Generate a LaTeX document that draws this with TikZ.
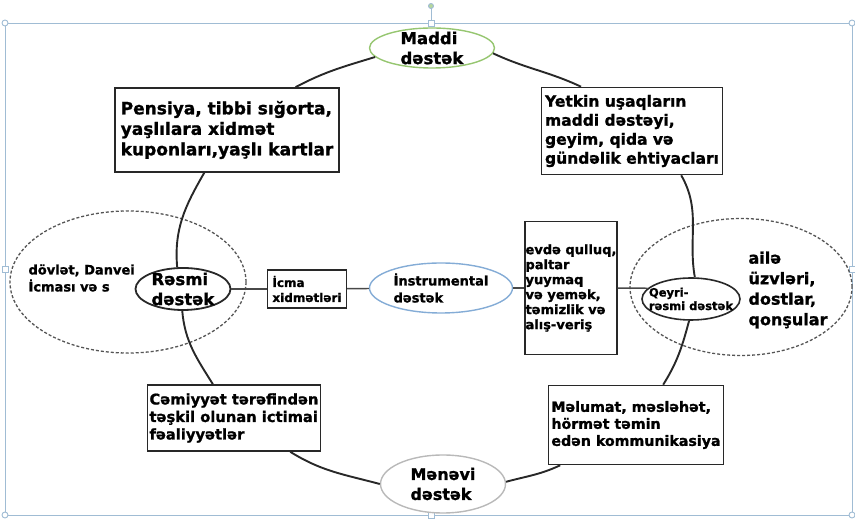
\documentclass[tikz,border=0pt]{standalone}
\usepackage{fontspec}
\setmainfont{DejaVu Sans}[BoldFeatures={FakeBold=1.2}]
\usetikzlibrary{shapes.geometric}

\definecolor{ringgray}{RGB}{40,40,40}
\definecolor{maddigreen}{RGB}{150,198,112}
\definecolor{instrblue}{RGB}{132,172,214}
\definecolor{menevigray}{RGB}{185,185,185}
\definecolor{zonegray}{RGB}{85,85,85}
\definecolor{framecol}{RGB}{160,188,212}

\newcommand{\fs}[2]{\fontsize{#1}{#2}\selectfont\bfseries}

\begin{document}
\begin{tikzpicture}[x=1pt, y=1pt,
	box/.style={draw=ringgray, rectangle, fill=white, line width=1.6pt, align=left, inner sep=0pt},
	oval/.style={draw, ellipse, fill=white, line width=1.4pt, inner sep=0pt},
	zone/.style={draw=zonegray, ellipse, line width=1.3pt, dash pattern=on 3pt off 2pt},
	ring/.style={draw=ringgray, line width=1.9pt},
	link/.style={draw=ringgray!85, line width=1.4pt},
	selframe/.style={draw=framecol, line width=0.9pt}]
	\useasboundingbox (0,0) rectangle (855,519);

	% selection frame round the drawing
	\draw[selframe] (5,4) rectangle (852,496);
	\draw[selframe] (431,496) -- (431,511);
	\draw[selframe, fill=maddigreen!70] (431,513) circle (2.5);
	\foreach \p in {(5,496),(852,496),(5,4),(852,4)}
		\draw[selframe, fill=white] \p circle (3);
	\foreach \p in {(431,496),(5,250),(852,250),(431,4)}
		\draw[selframe, fill=white] \p ++(-3,-3) rectangle ++(6,6);

	% dashed zones
	\node[zone, minimum width=236, minimum height=142] (zonaL) at (128,237) {};
	\node[zone, minimum width=222, minimum height=137] (zonaR) at (741,232) {};
	\node[anchor=west, align=left, font=\fs{13}{17}] (dovlet) at (25,241)
	{dövlət, Danvei\\İcması və s};
	\node[anchor=west, align=left, font=\fs{16}{20.5}] (aile) at (745,229)
	{ailə\\üzvləri,\\dostlar,\\qonşular};

	% nodes of the ring
	\node[oval, draw=maddigreen, minimum width=125, minimum height=40,
		label={[font=\fs{16.5}{20}, align=left]center:{Maddi\\dəstək}}] (maddi) at (432,471) {};
	\node[box, minimum width=224, minimum height=84, font=\fs{17}{20.5}] (pensiya) at (227,389)
	{Pensiya, tibbi sığorta,\\yaşlılara xidmət\\kuponları,yaşlı kartlar};
	\node[box, minimum width=181, minimum height=87, font=\fs{15.5}{19}] (yetkin) at (632,388)
	{Yetkin uşaqların\\maddi dəstəyi,\\geyim, qida və\\gündəlik ehtiyacları};
	\node[oval, draw=ringgray, line width=1.8pt, minimum width=95, minimum height=42,
		label={[font=\fs{16.5}{20}, align=left]center:{Rəsmi\\dəstək}}] (rasmi) at (183,230) {};
	\node[oval, draw=ringgray, line width=1.6pt, minimum width=98, minimum height=42,
		label={[font=\fs{11.5}{13.5}, align=left]center:{Qeyri-\\rəsmi dəstək}}] (qeyri) at (691,220) {};
	\node[box, minimum width=173, minimum height=66, font=\fs{14.7}{17.5}] (cemiyyet) at (234,101)
	{Cəmiyyət tərəfindən\\təşkil olunan ictimai\\fəaliyyətlər};
	\node[box, minimum width=175, minimum height=79, font=\fs{14.2}{17}] (melumat) at (636,94)
	{Məlumat, məsləhət,\\hörmət təmin\\edən kommunikasiya};
	\node[oval, draw=menevigray, minimum width=125, minimum height=58,
		label={[font=\fs{16}{20}, align=left]center:{Mənəvi\\dəstək}}] (menevi) at (443,35) {};

	% middle row
	\node[box, line width=1.3pt, minimum width=79, minimum height=38, font=\fs{12}{15}] (icma) at (307,230)
	{İcma\\xidmətləri};
	\node[oval, draw=instrblue, minimum width=143, minimum height=50,
		label={[font=\fs{13}{17}, align=left]center:{İnstrumental\\dəstək}}] (instr) at (441,231) {};
	\node[box, line width=1.3pt, minimum width=92, minimum height=133, font=\fs{13}{15}] (evde) at (571,231)
	{evdə qulluq,\\paltar\\yuymaq\\və yemək,\\təmizlik və\\alış-veriş};

	% the ring
	\draw[ring] (maddi.189) to[out=197, in=28] (pensiya.32);
	\draw[ring] (pensiya.242) to[out=240, in=95] (rasmi.105);
	\draw[ring] (rasmi.268) to[out=275, in=122] (cemiyyet.122);
	\draw[ring] (cemiyyet.329) to[out=328, in=165] (menevi.180);
	\draw[ring] (menevi.2) to[out=15, in=205] (melumat.208);
	\draw[ring] (melumat.56) to[out=58, in=255] (qeyri.265);
	\draw[ring] (qeyri.80) to[out=100, in=300] (yetkin.318);
	\draw[ring] (yetkin.139) to[out=155, in=335] (maddi.355);

	% links across
	\draw[link] (rasmi) -- (icma);
	\draw[link] (icma) -- (instr);
	\draw[link] (instr) -- (evde);
	\draw[link] (evde) -- (qeyri.166);
\end{tikzpicture}
\end{document}
